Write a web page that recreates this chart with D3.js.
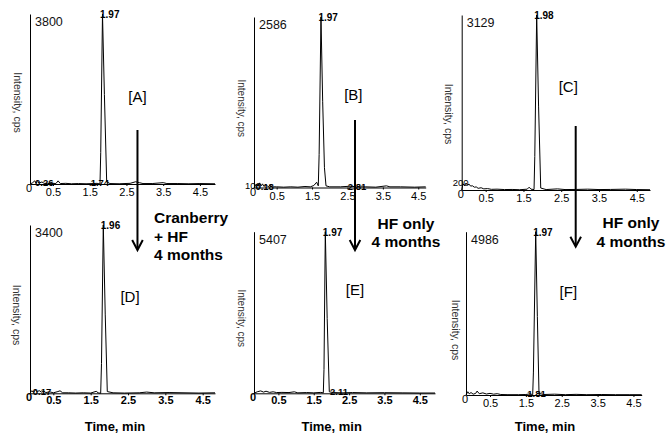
<!DOCTYPE html>
<html>
<head>
<meta charset="utf-8">
<script src="https://cdn.jsdelivr.net/npm/d3@7"></script>
<style>
  body { margin: 0; background: #fff; }
  svg { display: block; font-family: "Liberation Sans", Arial, sans-serif; }
</style>
</head>
<body>
<div id="chart"></div>
<script>
// values (time in min, intensity in cps)
let panelNames = ['A', 'B', 'C', 'D', 'E', 'F']
let maxLabels = ['3800', '2586', '3129', '3400', '5407', '4986']
let yMax = [3800, 2586, 3129, 3400, 5407, 4986]
let tMin = [-0.125, -0.14, -0.135, -0.125, -0.19, -0.17]
let tMax = [4.91, 4.71, 4.85, 4.83, 4.93, 4.73]
let xTicks = [0.5, 1.5, 2.5, 3.5, 4.5]
let xTickLabels = ['0.5', '1.5', '2.5', '3.5', '4.5']
let peakTimes = [1.848, 1.752, 1.85, 1.838, 1.827, 1.774]
let peakLabels = ['1.97', '1.97', '1.98', '1.96', '1.97', '1.97']
let lowLabels = [null, '100', '200', null, null, null]

// small retention-time labels lying on the baseline: [time, text]
let baseLabelsA = [[0.01, '0.26'], [1.526, '1.74']]
let baseLabelsB = [[-0.1, '0.18'], [2.507, '2.81']]
let baseLabelsC = []
let baseLabelsD = [[-0.05, '0.17']]
let baseLabelsE = [[1.96, '2.11']]
let baseLabelsF = [[1.54, '1.81']]

let traceA = [[-0.12,0],[-0.05,30],[0,70],[0.04,20],[0.08,50],[0.13,25],[0.2,45],[0.26,15],[0.35,10],[0.5,15],[0.58,10],[0.64,70],[0.7,10],[0.85,15],[1.0,5],[1.2,10],[1.4,5],[1.6,10],[1.7,15],[1.78,0],[1.8,700],[1.848,3800],[1.9,2000],[1.962,50],[2.05,10],[2.3,5],[2.6,15],[2.75,50],[2.85,30],[2.95,10],[3.2,10],[3.5,30],[3.6,10],[3.9,10],[4.2,5],[4.5,10],[4.91,5]]
let traceB = [[-0.14,0],[-0.08,50],[-0.02,20],[0.02,70],[0.06,25],[0.1,55],[0.14,15],[0.2,45],[0.26,10],[0.32,35],[0.38,10],[0.5,10],[0.7,5],[0.9,10],[1.1,5],[1.3,15],[1.45,10],[1.55,30],[1.63,80],[1.676,25],[1.7,500],[1.752,2586],[1.8,1300],[1.85,300],[1.894,25],[2.0,10],[2.3,10],[2.6,20],[2.75,10],[3.0,10],[3.3,5],[3.6,25],[3.7,10],[4.0,10],[4.4,5],[4.71,10]]
let traceC = [[-0.135,0],[-0.1,110],[-0.06,75],[-0.02,125],[0.02,85],[0.06,105],[0.1,70],[0.15,75],[0.2,50],[0.25,55],[0.3,30],[0.38,40],[0.45,20],[0.55,25],[0.65,12],[0.8,15],[1.0,8],[1.2,10],[1.4,5],[1.6,15],[1.65,50],[1.7,15],[1.78,8],[1.8,600],[1.85,3129],[1.9,1500],[1.957,35],[2.1,8],[2.4,20],[2.6,8],[2.9,10],[3.2,15],[3.5,8],[3.8,10],[4.2,15],[4.5,8],[4.85,5]]
let traceD = [[-0.125,0],[-0.08,50],[-0.03,25],[0.02,65],[0.07,30],[0.12,55],[0.18,25],[0.25,40],[0.3,15],[0.4,30],[0.5,10],[0.6,30],[0.68,50],[0.75,10],[0.9,10],[1.1,5],[1.3,10],[1.5,5],[1.65,40],[1.7,10],[1.768,0],[1.79,600],[1.838,3400],[1.89,1600],[1.945,35],[2.1,10],[2.4,5],[2.8,10],[3.0,25],[3.2,10],[3.6,15],[4.0,10],[4.4,5],[4.83,10]]
let traceE = [[-0.19,0],[-0.1,50],[0,80],[0.08,40],[0.15,70],[0.25,30],[0.35,50],[0.45,25],[0.6,30],[0.8,25],[0.95,50],[1.05,15],[1.3,25],[1.5,15],[1.7,30],[1.771,15],[1.79,800],[1.827,5407],[1.88,2500],[1.94,50],[2.05,25],[2.3,15],[2.6,25],[3.0,15],[3.5,20],[4.0,15],[4.5,10],[4.93,10]]
let traceF = [[-0.17,0],[-0.12,100],[-0.08,35],[-0.03,75],[0.03,25],[0.1,50],[0.14,120],[0.2,40],[0.3,65],[0.4,30],[0.5,50],[0.6,25],[0.7,40],[0.8,15],[1.0,10],[1.3,10],[1.5,15],[1.62,35],[1.69,10],[1.71,700],[1.774,4986],[1.82,2400],[1.866,50],[2.0,15],[2.3,25],[2.6,10],[2.9,20],[3.2,10],[3.6,15],[4.0,10],[4.4,10],[4.73,10]]

let traces = [traceA, traceB, traceC, traceD, traceE, traceF]
let baseLabels = [baseLabelsA, baseLabelsB, baseLabelsC, baseLabelsD, baseLabelsE, baseLabelsF]

// arrows (time in the panel above, intensity where the shaft starts)
let arrowPanels = [0, 1, 2]
let arrowTimes = [2.8, 2.713, 2.883]
let arrowStarts = [1207, 1024, 1144]
let arrowNotes = [['Cranberry', '+ HF', '4 months'], ['HF only', '4 months'], ['HF only', '4 months']]

// layout in pixels
let layout = [
  { left: 30, right: 215, top: 14, base: 184, letter: [137.5, 96.5], ylab: [17.5, 102.5], ylabSize: 10.5, bold: false, pad: 2.2, lowDy: 0 },
  { left: 254, right: 425.7, top: 17, base: 187.5, letter: [353.3, 95], ylab: [241.7, 108.3], ylabSize: 10, bold: false, pad: 2.2, lowDy: 1 },
  { left: 461.7, right: 650, top: 15, base: 190, letter: [568.3, 86.7], ylab: [449, 114], ylabSize: 10.5, bold: false, pad: 2.2, lowDy: -4 },
  { left: 30, right: 215, top: 225, base: 393.3, letter: [130, 296.7], ylab: [17, 315], ylabSize: 10.5, bold: true, pad: 0.5, lowDy: 0 },
  { left: 254, right: 435, top: 231.7, base: 393.3, letter: [355, 290], ylab: [241.7, 318.3], ylabSize: 10, bold: true, pad: 0.5, lowDy: 0 },
  { left: 466, right: 641.7, top: 231.7, base: 395, letter: [568.3, 291.7], ylab: [455.5, 330], ylabSize: 10.5, bold: false, pad: 2.2, lowDy: 0 }
]
let arrowTips = [250, 250, 246.7]
let noteX = [154, 406, 631]
let noteAnchor = ['start', 'middle', 'middle']
let noteBase = [[223, 241.5, 260], [229, 247.3], [228.3, 247.3]]
let timeTitleX = [115, 331.7, 545]

let svg = d3.select('#chart').append('svg')
  .attr('width', 669)
  .attr('height', 434)

let scales = []

for (let i = 0; i < 6; i++) {
  let L = layout[i]
  let x = d3.scaleLinear().domain([tMin[i], tMax[i]]).range([L.left, L.right])
  let y = d3.scaleLinear().domain([0, yMax[i]]).range([L.base, L.top])
  scales.push({ x: x, y: y })
  let g = svg.append('g')

  // x axis
  let xAxis = g.append('g')
    .attr('transform', 'translate(0,' + L.base + ')')
    .call(d3.axisBottom(x).tickValues(xTicks).tickFormat((d, k) => xTickLabels[k])
      .tickSizeInner(2).tickSizeOuter(0).tickPadding(L.pad))
  xAxis.select('.domain').attr('stroke', '#000')
  xAxis.selectAll('.tick line').attr('stroke', '#000')
  xAxis.selectAll('.tick text')
    .attr('fill', '#000')
    .attr('font-size', 11)
    .attr('font-family', '"Liberation Sans", Arial, sans-serif')
    .attr('font-weight', L.bold ? 'bold' : 'normal')

  // y axis, a plain line
  let yAxis = g.append('g')
    .attr('transform', 'translate(' + L.left + ',0)')
    .call(d3.axisLeft(y).tickValues([]).tickSizeOuter(0))
  yAxis.select('.domain').attr('stroke', '#000')

  // corner zero
  g.append('text')
    .attr('x', L.left - 1)
    .attr('y', L.base + 8)
    .attr('text-anchor', 'middle')
    .attr('font-size', 11)
    .attr('font-weight', L.bold ? 'bold' : 'normal')
    .text('0')

  if (lowLabels[i]) {
    g.append('text')
      .attr('x', L.left - 1)
      .attr('y', L.base + L.lowDy)
      .attr('text-anchor', 'middle')
      .attr('font-size', 9.5)
      .text(lowLabels[i])
  }

  // trace
  let line = d3.line().x(d => x(d[0])).y(d => y(d[1]))
  g.append('path')
    .datum(traces[i])
    .attr('d', line)
    .attr('fill', 'none')
    .attr('stroke', '#000')
    .attr('stroke-width', 1)

  // peak label
  g.append('text')
    .attr('x', x(peakTimes[i]) - 2.5)
    .attr('y', y(yMax[i]) + 4)
    .attr('font-size', 10)
    .attr('font-weight', 'bold')
    .text(peakLabels[i])

  // baseline retention labels
  g.selectAll('.bl')
    .data(baseLabels[i])
    .enter().append('text')
    .attr('x', d => x(d[0]))
    .attr('y', y(0) + 2)
    .attr('font-size', 9.5)
    .attr('font-weight', 'bold')
    .text(d => d[1])

  // max intensity
  g.append('text')
    .attr('x', L.left + 5)
    .attr('y', L.top + 12)
    .attr('font-size', 12.5)
    .attr('fill', '#111')
    .text(maxLabels[i])

  // panel letter
  g.append('text')
    .attr('x', L.letter[0])
    .attr('y', L.letter[1] + 5.4)
    .attr('text-anchor', 'middle')
    .attr('font-size', 15)
    .text('[' + panelNames[i] + ']')

  // y title
  g.append('text')
    .attr('transform', 'translate(' + L.ylab[0] + ',' + L.ylab[1] + ')rotate(90)')
    .attr('text-anchor', 'middle')
    .attr('dominant-baseline', 'central')
    .attr('font-size', L.ylabSize)
    .attr('fill', '#333')
    .text('Intensity, cps')
}

// x titles on the bottom row
for (let k = 0; k < 3; k++) {
  svg.append('text')
    .attr('x', timeTitleX[k])
    .attr('y', 430.5)
    .attr('text-anchor', 'middle')
    .attr('font-size', 13)
    .attr('font-weight', 'bold')
    .text('Time, min')
}

// arrows with their notes
for (let k = 0; k < arrowPanels.length; k++) {
  let s = scales[arrowPanels[k]]
  let ax = s.x(arrowTimes[k])
  let ay = s.y(arrowStarts[k])
  let tip = arrowTips[k]
  svg.append('line')
    .attr('x1', ax).attr('x2', ax)
    .attr('y1', ay).attr('y2', tip - 1)
    .attr('stroke', '#000')
    .attr('stroke-width', 2)
  svg.append('path')
    .attr('d', 'M' + (ax - 5.3) + ',' + (tip - 10) + 'L' + ax + ',' + tip + 'L' + (ax + 5.3) + ',' + (tip - 10))
    .attr('fill', 'none')
    .attr('stroke', '#000')
    .attr('stroke-width', 2)
  arrowNotes[k].forEach((t, j) => {
    svg.append('text')
      .attr('x', noteX[k])
      .attr('y', noteBase[k][j])
      .attr('text-anchor', noteAnchor[k])
      .attr('font-size', 15.5)
      .attr('font-weight', 'bold')
      .text(t)
  })
}
</script>
</body>
</html>
